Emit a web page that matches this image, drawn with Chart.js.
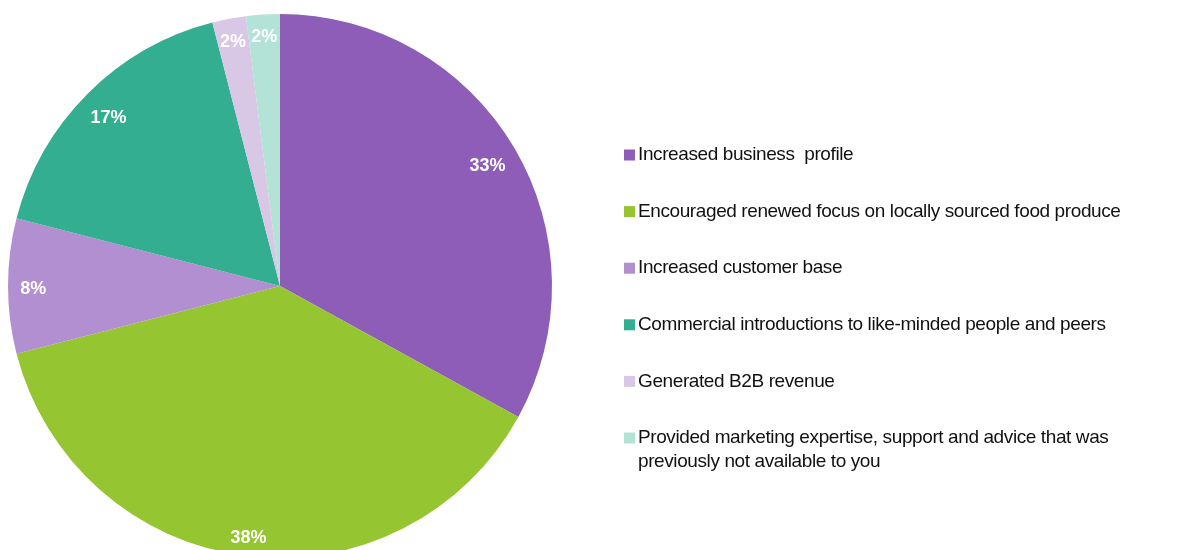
<!DOCTYPE html>
<html>
<head>
<meta charset="utf-8">
<script src="https://cdn.jsdelivr.net/npm/chart.js@4/dist/chart.umd.min.js"></script>
<style>
  html, body { margin: 0; padding: 0; background: #fff; overflow: hidden; }
  #wrap { width: 1190px; height: 572px; }
</style>
</head>
<body>
<div id="wrap"><canvas id="pie" width="1190" height="572"></canvas></div>
<script>
// 回答カテゴリ（最後の項目は2行で表示）
const categories = [
  ['Increased business  profile'],
  ['Encouraged renewed focus on locally sourced food produce'],
  ['Increased customer base'],
  ['Commercial introductions to like-minded people and peers'],
  ['Generated B2B revenue'],
  ['Provided marketing expertise, support and advice that was', 'previously not available to you']
];
const shares = [33, 38, 8, 17, 2, 2];
const sliceColors = ['#8d5db7', '#95c531', '#b18fd0', '#33ae91', '#d9c7e6', '#b3e2d7'];

// スライス上にパーセント表示（ラベルの外側の角が外周近くに来るよう配置）
const sliceLabels = {
  id: 'sliceLabels',
  afterDatasetsDraw(chart) {
    const { ctx } = chart;
    const meta = chart.getDatasetMeta(0);
    ctx.save();
    ctx.font = 'bold 18px "Liberation Sans", Arial, sans-serif';
    ctx.fillStyle = '#fff';
    ctx.textAlign = 'center';
    ctx.textBaseline = 'middle';
    meta.data.forEach((arc, i) => {
      const p = arc.getProps(['x', 'y', 'startAngle', 'endAngle', 'outerRadius'], true);
      const text = shares[i] + '%';
      const w = ctx.measureText(text).width, h = 13;
      const mid = (p.startAngle + p.endAngle) / 2;
      const c = Math.cos(mid), s = Math.sin(mid);
      const d = p.outerRadius * 0.955 - (Math.abs(c) * w / 2 + Math.abs(s) * h / 2);
      ctx.fillText(text, p.x + c * d, p.y + s * d + 3);
    });
    ctx.restore();
  }
};

// 右側の凡例
const sideLegend = {
  id: 'sideLegend',
  afterDraw(chart) {
    const { ctx } = chart;
    const x = 624, rowGap = 56.6, top = 155, lineGap = 24;
    ctx.save();
    ctx.font = '19px "Liberation Sans", Arial, sans-serif';
    ctx.textBaseline = 'middle';
    ctx.letterSpacing = '-0.4px';
    categories.forEach((lines, i) => {
      const y = top + i * rowGap;
      ctx.fillStyle = sliceColors[i];
      ctx.fillRect(x, y - 5.5, 11, 11);
      ctx.fillStyle = '#111';
      lines.forEach((t, j) => ctx.fillText(t, x + 14, y + j * lineGap));
    });
    ctx.restore();
  }
};

new Chart(document.getElementById('pie'), {
  type: 'pie',
  data: {
    labels: categories.map(l => l.join(' ')),
    datasets: [{
      data: shares,
      backgroundColor: sliceColors,
      borderWidth: 0
    }]
  },
  options: {
    responsive: false,
    animation: false,
    layout: { padding: { left: 8, top: 14, right: 638, bottom: 14 } },
    plugins: {
      legend: { display: false },
      tooltip: { enabled: false }
    }
  },
  plugins: [sliceLabels, sideLegend]
});
</script>
</body>
</html>
